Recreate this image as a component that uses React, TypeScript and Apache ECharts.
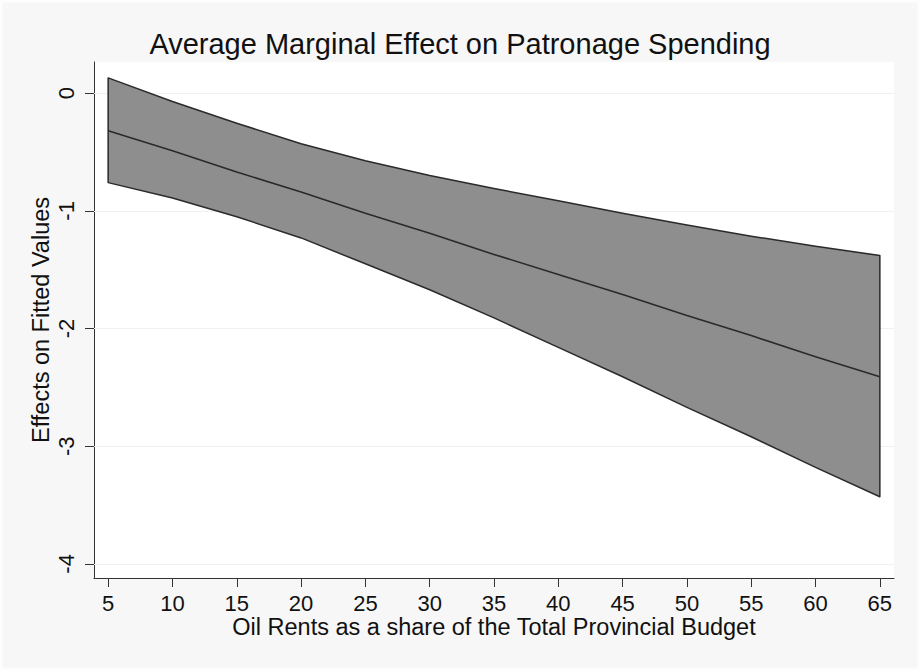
import React, { useEffect, useRef } from "react";
import * as echarts from "echarts";

const xValues = [5, 10, 15, 20, 25, 30, 35, 40, 45, 50, 55, 60, 65];
const upperCI = [0.13, -0.07, -0.255, -0.43, -0.575, -0.7, -0.81, -0.915, -1.02, -1.12, -1.215, -1.3, -1.38];
const lowerCI = [-0.76, -0.89, -1.05, -1.23, -1.45, -1.67, -1.91, -2.16, -2.41, -2.67, -2.92, -3.18, -3.43];
const effect = [-0.32, -0.49, -0.67, -0.84, -1.02, -1.19, -1.37, -1.54, -1.71, -1.89, -2.06, -2.24, -2.41];
const xTicks = [5, 10, 15, 20, 25, 30, 35, 40, 45, 50, 55, 60, 65];
const yTicks = [0, -1, -2, -3, -4];

const FONT = "'Liberation Sans', Arial, Helvetica, sans-serif";

export default function App() {
  const ref = useRef<HTMLDivElement>(null);
  useEffect(() => {
    document.body.style.margin = "0";
    if (!ref.current) return;
    const chart = echarts.init(ref.current, null, { renderer: "svg" });
    const bandPts: number[][] = [];
    xValues.forEach((x, i) => bandPts.push([x, upperCI[i]]));
    for (let i = xValues.length - 1; i >= 0; i--) bandPts.push([xValues[i], lowerCI[i]]);
    chart.setOption({
      animation: false,
      backgroundColor: "#f7f7f7",
      title: {
        text: "Average Marginal Effect on Patronage Spending",
        left: "center",
        top: 24,
        textStyle: { fontFamily: FONT, fontSize: 29, fontWeight: "normal", color: "#111" },
      },
      graphic: [
        {
          type: "rect",
          shape: { x: 1, y: 1, width: 918, height: 668 },
          style: { fill: "none", stroke: "#fdfdfd", lineWidth: 3 },
          silent: true,
        },
      ],
      grid: {
        left: 94,
        right: 26,
        top: 62,
        bottom: 92,
        show: true,
        backgroundColor: "#ffffff",
        borderWidth: 0,
      },
      xAxis: {
        type: "value",
        min: 3.9,
        max: 66.1,
        name: "Oil Rents as a share of the Total Provincial Budget",
        nameLocation: "middle",
        nameGap: 37,
        nameMoveOverlap: false,
        nameTextStyle: { fontFamily: FONT, fontSize: 23.5, color: "#111" },
        axisLine: { show: true, onZero: false, lineStyle: { color: "#333", width: 1 } },
        axisTick: { show: true, length: 9, customValues: xTicks, lineStyle: { color: "#333" } },
        axisLabel: { customValues: xTicks, fontFamily: FONT, fontSize: 22, color: "#111", margin: 14 },
        splitLine: { show: false },
      },
      yAxis: {
        type: "value",
        min: -4.12,
        max: 0.265,
        name: "Effects on Fitted Values",
        nameLocation: "middle",
        nameGap: 41,
        nameMoveOverlap: false,
        nameTextStyle: { fontFamily: FONT, fontSize: 23.5, color: "#111" },
        axisLine: { show: true, onZero: false, lineStyle: { color: "#333", width: 1 } },
        axisTick: { show: true, length: 9, customValues: yTicks, lineStyle: { color: "#333" } },
        axisLabel: { customValues: yTicks, rotate: 90, fontFamily: FONT, fontSize: 22, color: "#111", margin: 17 },
        splitLine: { show: false },
      },
      series: [
        {
          type: "line",
          data: [],
          silent: true,
          z: 1,
          markLine: {
            silent: true,
            z: 1,
            symbol: "none",
            label: { show: false },
            lineStyle: { color: "#f0f0f0", width: 1, type: "solid" },
            data: yTicks.map((v) => ({ yAxis: v })),
          },
        },
        {
          type: "custom",
          data: [[xValues[0], upperCI[0]]],
          silent: true,
          z: 3,
          renderItem: (_params: any, api: any) => {
            const pts = bandPts.map((p) => api.coord(p));
            return {
              type: "polygon",
              shape: { points: pts },
              style: { fill: "#8e8e8e", stroke: "#2a2a2a", lineWidth: 1.5, lineJoin: "round" },
            };
          },
        },
        {
          type: "line",
          data: xValues.map((x, i) => [x, effect[i]]),
          symbol: "none",
          z: 4,
          lineStyle: { color: "#2a2a2a", width: 1.6 },
        },
      ],
    });
    return () => chart.dispose();
  }, []);
  return <div ref={ref} style={{ width: 920, height: 670 }} />;
}
